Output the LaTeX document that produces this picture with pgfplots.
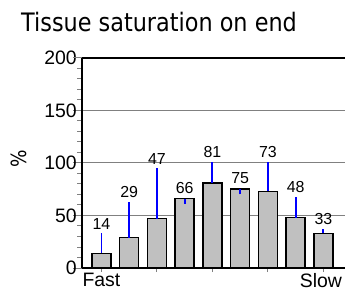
\documentclass[border=0pt]{standalone}
\usepackage{fontspec}
\setmainfont{Liberation Sans}
\newfontfamily\titlefont[FakeStretch=0.88]{DejaVu Sans}
\usepackage{pgfplots}
\usepackage{pgfplotstable}
\pgfplotsset{compat=1.18}
\definecolor{barfill}{HTML}{C0C0C0}
\definecolor{gridgray}{HTML}{808080}
\definecolor{errblue}{RGB}{0,0,255}
\pgfplotstableread{
x y
0 14
1 29
2 47
3 66
4 81
5 75
6 73
7 48
8 33
}\bars
\begin{document}
\begin{tikzpicture}
\useasboundingbox (0,0) rectangle (345bp,290bp);
\node[anchor=base west, inner sep=0] at (21bp,258bp) {\titlefont\fontsize{25.5}{28}\selectfont Tissue saturation on end};
\node[rotate=90, inner sep=0] at (19bp,131bp) {\titlefont\fontsize{21}{24}\selectfont \%};
\begin{axis}[
  at={(82bp,22bp)}, anchor=south west,
  scale only axis, width=263bp, height=210bp,
  xmin=-0.70, xmax=8.78, ymin=0, ymax=200,
  axis x line*=bottom, axis y line*=left,
  axis line style={black, line width=1.5bp},
  ytick={0,50,100,150,200}, minor y tick num=4,
  ymajorgrids, major grid style={gridgray, line width=1bp},
  extra y ticks={200}, extra y tick labels={},
  extra y tick style={major grid style={black, line width=1.5bp}, major tick length=9bp},
  tick align=outside,
  major tick length=4bp, minor tick length=5bp,
  ytick style={/pgfplots/major tick length=9bp},
  tick style={gridgray, line width=1bp},
  xtick={0,2,4,6,8}, xticklabels={Fast,,,,{\hspace*{-5bp}Slow}},
  tick label style={font=\fontsize{19.5}{20}\selectfont},
  yticklabel style={inner sep=1bp},
  xticklabel style={inner sep=1bp},
  /pgf/number format/assume math mode=true,
  unbounded coords=jump,
  clip=false,
]
\addplot[ybar, bar shift=0pt, bar width=19bp, fill=barfill, draw=black, line width=1.5bp]
  table[x=x, y=y] {\bars};
\addplot[errblue, line width=1.8bp, mark=none]
  coordinates {(0,14) (0,33) (0,nan) (1,29) (1,63) (1,nan) (2,47) (2,95) (2,nan)
    (3,61) (3,66) (3,nan) (4,81) (4,101) (4,nan) (5,70) (5,75) (5,nan)
    (6,73) (6,101) (6,nan) (7,48) (7,68) (7,nan) (8,33) (8,37)};
\addplot[draw=none, mark=none, nodes near coords, point meta=explicit symbolic,
  every node near coord/.append style={anchor=south, inner sep=0, yshift=4bp, font=\fontsize{16}{18}\selectfont}]
  coordinates {(0,33) [14] (1,63) [29] (2,95) [47] (3,67) [66] (4,101) [81] (5,76) [75] (6,101) [73] (7,68) [48] (8,37) [33]};
\end{axis}
\end{tikzpicture}
\end{document}
